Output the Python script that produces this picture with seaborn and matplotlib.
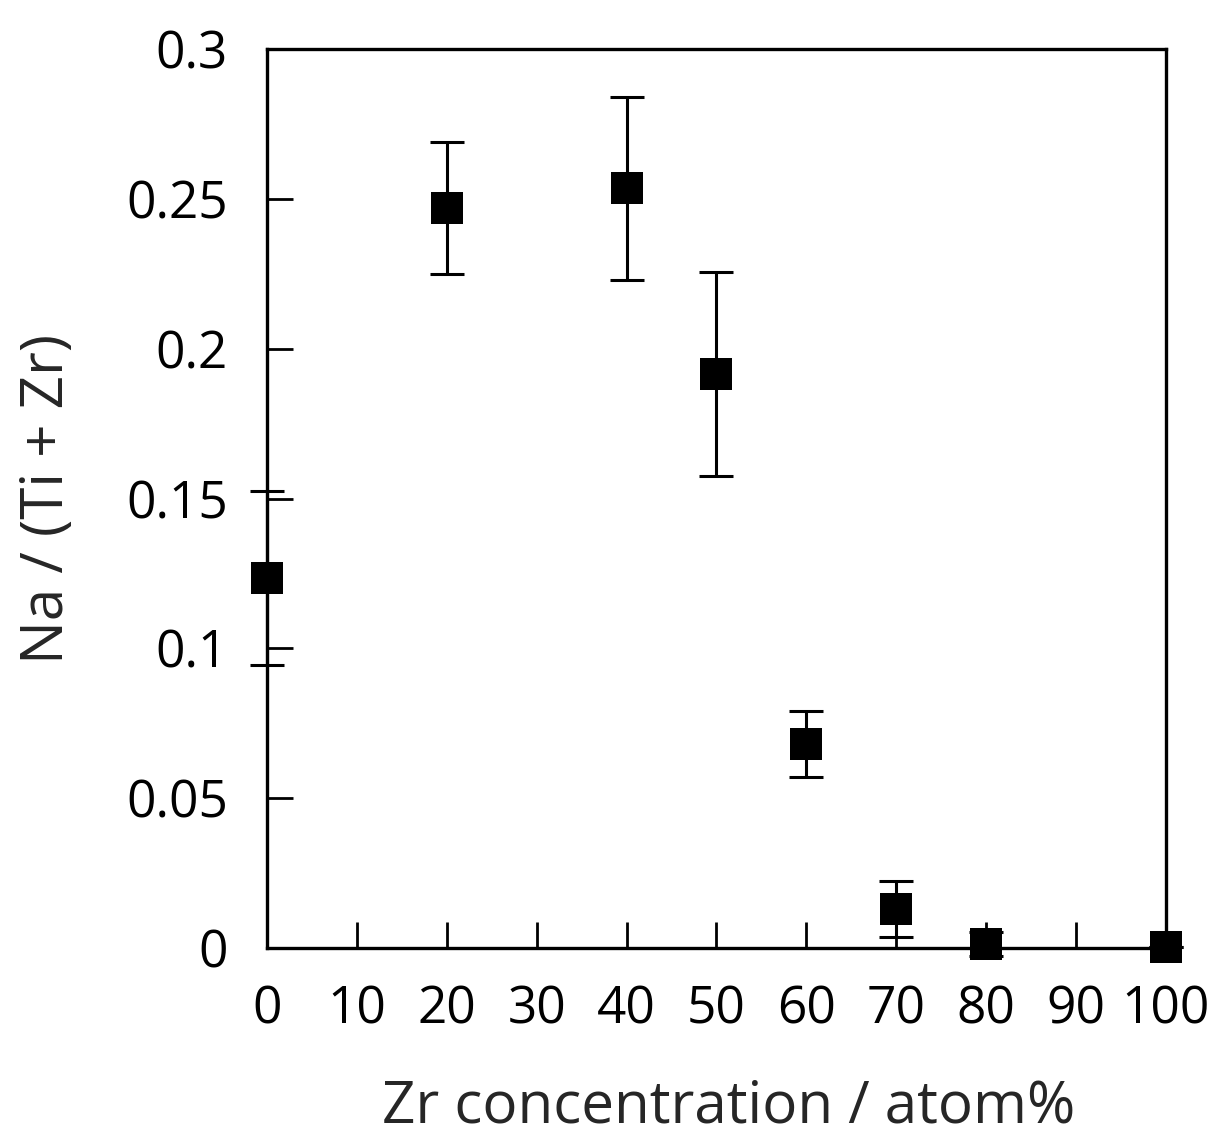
import numpy as np
import pandas as pd
import matplotlib
matplotlib.use('Agg')
import matplotlib.pyplot as plt
import seaborn as sns

# data
zr = [0, 20, 40, 50, 60, 70, 80, 100]
na_ratio = [0.1235, 0.247, 0.2535, 0.1915, 0.068, 0.013, 0.0015, 0.0003]
err = [0.029, 0.022, 0.0305, 0.034, 0.011, 0.0093, 0.004, 0.0]
xticks = [0, 10, 20, 30, 40, 50, 60, 70, 80, 90, 100]
yticks = [0, 0.05, 0.1, 0.15, 0.2, 0.25, 0.3]
ytick_labels = ['0', '0.05', '0.1', '0.15', '0.2', '0.25', '0.3']

df = pd.DataFrame({'Zr': zr, 'Na': na_ratio, 'err': err})

sns.set_style('ticks')
plt.rcParams['font.family'] = ['Open Sans', 'DejaVu Sans']

fig = plt.figure(figsize=(12.18, 11.4), dpi=100)
ax = fig.add_axes([0.2192, 0.1684, 0.7381, 0.7886])

ax.errorbar(df['Zr'], df['Na'], yerr=df['err'], fmt='none', ecolor='black',
            elinewidth=2.2, capsize=12, capthick=2.2, clip_on=False, zorder=3)
sns.scatterplot(data=df, x='Zr', y='Na', marker='s', s=530, color='black',
                linewidth=0, ax=ax, clip_on=False, zorder=4)

ax.set_xlim(0, 100)
ax.set_ylim(0, 0.3)
ax.set_xticks(xticks)
ax.set_xticklabels([str(t) for t in xticks])
ax.set_yticks(yticks)
ax.set_yticklabels(ytick_labels)

ax.tick_params(axis='both', direction='in', length=19, width=2.0,
               labelsize=37, colors='black', bottom=True, left=True,
               top=False, right=False)
ax.tick_params(axis='x', pad=26)
ax.tick_params(axis='y', pad=28)
for sp in ax.spines.values():
    sp.set_linewidth(2.4)
    sp.set_color('black')

ax.set_xlabel('Zr concentration / atom%', fontsize=42)
ax.set_ylabel('Na / (Ti + Zr)', fontsize=42)
ax.xaxis.label.set_va('center')
ax.yaxis.label.set_va('center')
ax.xaxis.set_label_coords(0.513, -0.177)
ax.yaxis.set_label_coords(-0.2436, 0.5)

fig.savefig('out.png', dpi=100)
